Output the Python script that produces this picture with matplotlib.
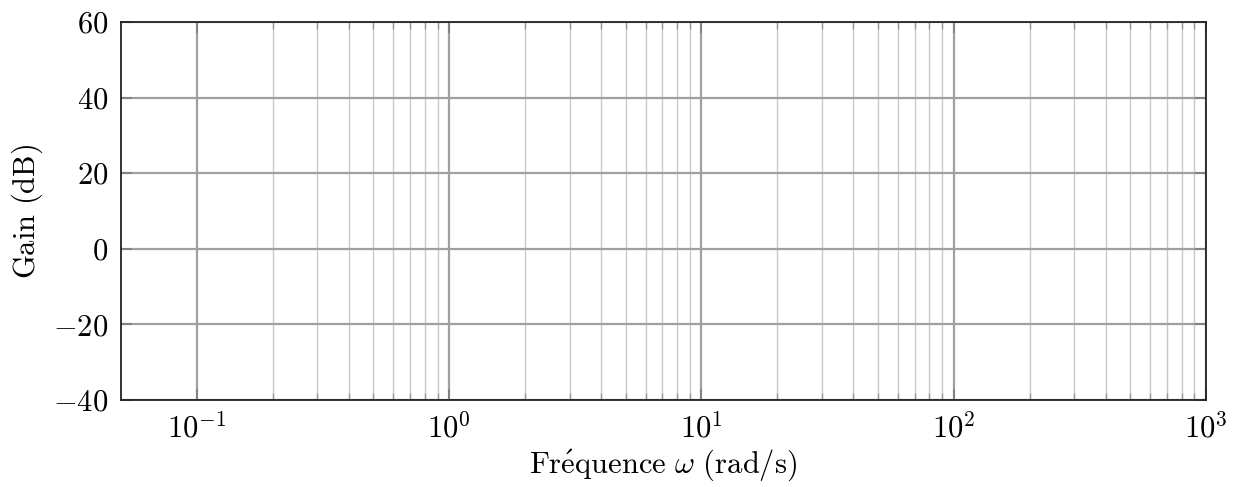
import matplotlib
matplotlib.use("Agg")
import matplotlib.pyplot as plt
import numpy as np

x_limits = [0.05, 1000]
y_limits = [-40, 60]
y_ticks = [-40, -20, 0, 20, 40, 60]
x_major = [0.1, 1, 10, 100, 1000]
decades = [0.1, 1, 10, 100]
x_label = r'$\mathrm{Fr\acute{e}quence}\hspace{0.35}\omega\hspace{0.35}\mathrm{(rad/s)}$'
y_label = r'$\mathrm{Gain}\hspace{0.35}\mathrm{(dB)}$'

plt.rcParams['mathtext.fontset'] = 'cm'
plt.rcParams['font.family'] = 'serif'
plt.rcParams['font.serif'] = ['cmr10']
plt.rcParams['axes.formatter.use_mathtext'] = True

fig = plt.figure(figsize=(12.39, 4.87), dpi=100)
ax = fig.add_axes([121/1239, 87/487, (1206-121)/1239, (400-22)/487])
ax.set_xscale('log')
ax.set_xlim(*x_limits)
ax.set_ylim(*y_limits)
ax.set_xticks(x_major)
ax.set_xticklabels([r'$10^{%d}$' % int(np.log10(v)) for v in x_major])
minor = [m * d for d in decades for m in range(2, 10)]
ax.set_xticks(minor, minor=True)
ax.set_yticks(y_ticks)
ax.set_yticklabels([r'$%d$' % v if v >= 0 else r'$-%d$' % (-v) for v in y_ticks])

ax.grid(True, which='major', color='#a0a0a0', linewidth=1.6)
ax.grid(True, which='minor', axis='x', color='#c8c8c8', linewidth=1.0)
ax.set_axisbelow(True)
ax.tick_params(which='major', direction='in', length=8, width=1.3, color='#808080', labelsize=22, pad=9, top=True, right=True)
ax.tick_params(which='minor', direction='in', length=5, width=1.0, color='#999999', top=True, right=True)
for s in ax.spines.values():
    s.set_color('#222222')
    s.set_linewidth(1.3)

ax.set_xlabel(x_label, fontsize=22, labelpad=3)
ax.set_ylabel(y_label, fontsize=22, labelpad=6)

fig.savefig('out.png', dpi=100)
